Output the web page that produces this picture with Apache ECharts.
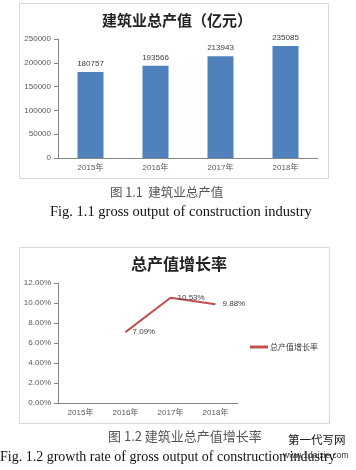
<!DOCTYPE html>
<html><head><meta charset="utf-8">
<script src="https://cdn.jsdelivr.net/npm/echarts@6/dist/echarts.min.js"></script>
<style>html,body{margin:0;padding:0;background:#fff}#c{width:356px;height:470px}</style>
</head><body><div id="c"></div>
<script>
var years = ['2015年','2016年','2017年','2018年'];
var outputValues = [180757, 193566, 213943, 235085];
var growthRates = [null, 7.09, 10.53, 9.88];
var title1 = '建筑业总产值（亿元）';
var title2 = '总产值增长率';
var seriesName2 = '总产值增长率';
var cap1cn = '图 1.1  建筑业总产值';
var cap1en = 'Fig. 1.1 gross output of construction industry';
var cap2cn = '图 1.2 建筑业总产值增长率';
var cap2en = 'Fig. 1.2 growth rate of gross output of construction industry';
var wm1 = '第一代写网';
var wm2 = 'www.1daixie.com';

var SANS = '"Liberation Sans","Noto Sans CJK SC",sans-serif';
var CJK = '"Noto Sans CJK SC",sans-serif';
var SERIF = '"Liberation Serif","DejaVu Serif",serif';
var axisTxt = {fontSize: 8, color: '#595959', fontFamily: SANS};

var chart = echarts.init(document.getElementById('c'), null, {renderer: 'canvas'});
chart.setOption({
  animation: false,
  backgroundColor: '#fff',
  title: [
    {text: title1, left: 172, textAlign: 'center', top: 8,
     textStyle: {fontSize: 15, fontWeight: 'bold', color: '#222', fontFamily: CJK}},
    {text: title2, left: 174, textAlign: 'center', top: 251,
     textStyle: {fontSize: 16, fontWeight: 'bold', color: '#222', fontFamily: CJK}}
  ],
  legend: {
    data: [seriesName2], left: 250, top: 343, padding: 0, itemWidth: 18, itemHeight: 3,
    icon: 'rect', textStyle: {fontSize: 8, color: '#404040', fontFamily: CJK, padding: [0,0,0,-3]}
  },
  grid: [
    {left: 58, top: 39, width: 260, height: 119},
    {left: 58, top: 283, width: 180, height: 120}
  ],
  xAxis: [
    {type: 'category', gridIndex: 0, data: years,
     axisLine: {lineStyle: {color: '#868686'}}, axisTick: {length: 4, lineStyle: {color: '#868686'}},
     axisLabel: Object.assign({margin: 6}, axisTxt)},
    {type: 'category', gridIndex: 1, data: years,
     axisLine: {lineStyle: {color: '#868686'}}, axisTick: {length: 4, lineStyle: {color: '#868686'}},
     axisLabel: Object.assign({margin: 6}, axisTxt)}
  ],
  yAxis: [
    {type: 'value', gridIndex: 0, min: 0, max: 250000, interval: 50000,
     axisLine: {show: true, lineStyle: {color: '#868686'}}, axisTick: {show: true, length: 4, lineStyle: {color: '#868686'}},
     splitLine: {show: false},
     axisLabel: Object.assign({margin: 7, formatter: function(v){return String(v);}}, axisTxt)},
    {type: 'value', gridIndex: 1, min: 0, max: 12, interval: 2,
     axisLine: {show: true, lineStyle: {color: '#868686'}}, axisTick: {show: true, length: 4, lineStyle: {color: '#868686'}},
     splitLine: {show: false},
     axisLabel: Object.assign({margin: 7, formatter: function(v){return v.toFixed(2)+'%';}}, axisTxt)}
  ],
  series: [
    {type: 'bar', xAxisIndex: 0, yAxisIndex: 0, data: outputValues, barWidth: 26,
     itemStyle: {color: '#4f81bd'},
     label: {show: true, position: 'top', distance: 4, fontSize: 8, color: '#404040', fontFamily: SANS}},
    {type: 'line', name: seriesName2, xAxisIndex: 1, yAxisIndex: 1, data: growthRates,
     showSymbol: true, symbol: 'circle', symbolSize: 0.1,
     lineStyle: {width: 2, color: '#c0504d'}, itemStyle: {color: '#c0504d'},
     label: {show: true, position: 'right', distance: 7, fontSize: 8, color: '#404040', fontFamily: SANS,
       formatter: function(p){return p.value.toFixed(2)+'%';}}}
  ],
  graphic: [
    {type: 'rect', shape: {x: 19.5, y: 3.5, width: 309, height: 175}, style: {fill: 'none', stroke: '#d9d9d9', lineWidth: 1}, z: -1},
    {type: 'rect', shape: {x: 19.5, y: 247.5, width: 310, height: 176}, style: {fill: 'none', stroke: '#d9d9d9', lineWidth: 1}, z: -1},
    {type: 'text', left: 110, top: 186, style: {text: cap1cn, fontSize: 12.5, fill: '#555', fontFamily: CJK}},
    {type: 'text', left: 50, top: 205, style: {text: cap1en, fontSize: 14.5, fill: '#111', fontFamily: SERIF}},
    {type: 'text', left: 108, top: 430, style: {text: cap2cn, fontSize: 13, fill: '#555', fontFamily: CJK}},
    {type: 'text', left: 0, top: 450, style: {text: cap2en, fontSize: 14, fill: '#111', fontFamily: SERIF}},
    {type: 'text', left: 288, top: 434, style: {text: wm1, fontSize: 11.5, fill: '#111', fontFamily: CJK}},
    {type: 'text', left: 283, top: 451, style: {text: wm2, fontSize: 8.5, fill: '#333', fontFamily: SANS}}
  ]
});
</script></body></html>
